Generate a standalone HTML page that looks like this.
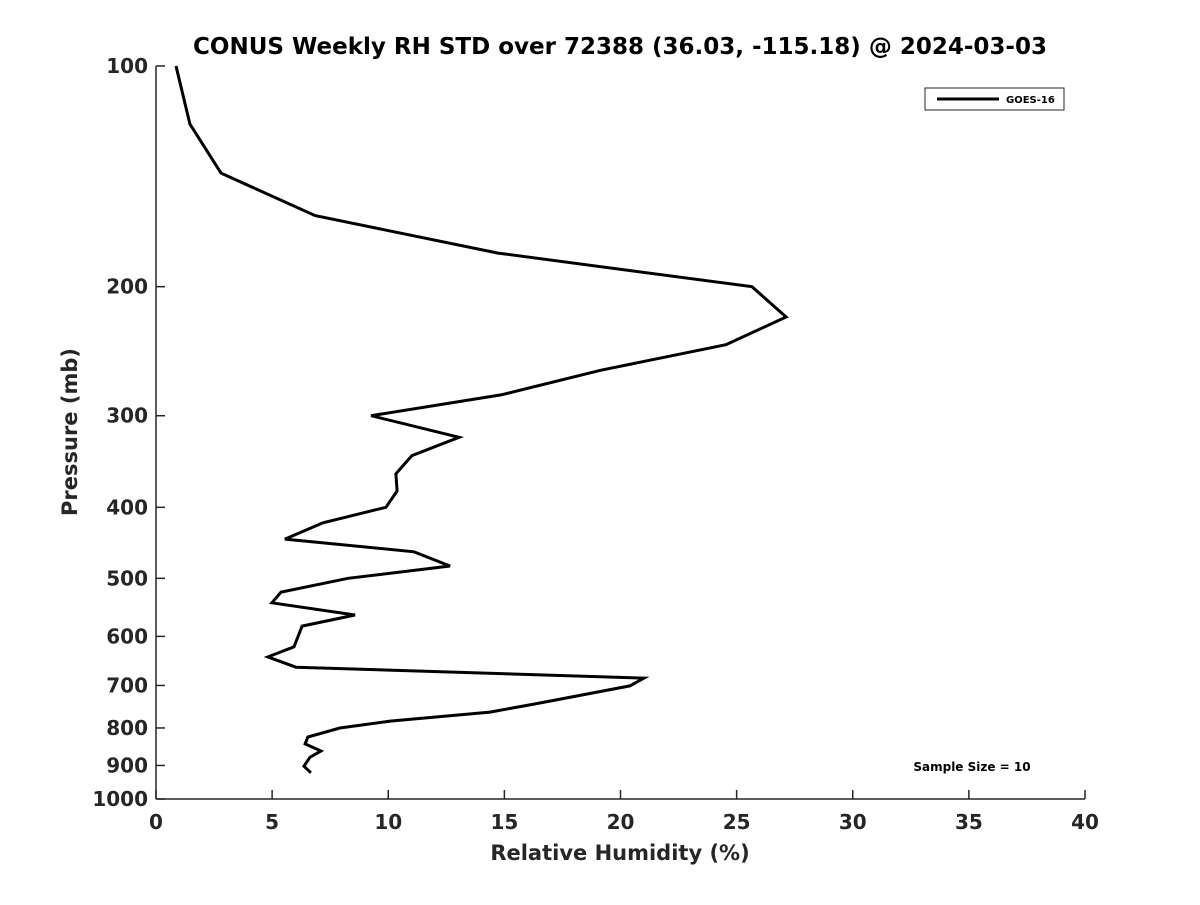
<!DOCTYPE html>
<html><head><meta charset="utf-8"><style>
body{margin:0;background:#fff}
svg text{font-family:"DejaVu Sans","Liberation Sans",sans-serif;font-weight:bold;fill:#262626}
</style></head><body>
<svg width="1200" height="900" xmlns="http://www.w3.org/2000/svg">
<rect width="1200" height="900" fill="#fff"/>
<g id="axes"></g>
<path id="line" fill="none" stroke="#000" stroke-width="3" stroke-linejoin="miter"/>
<text x="620" y="54" text-anchor="middle" font-size="23" style="fill:#000">CONUS Weekly RH STD over 72388 (36.03, -115.18) @ 2024-03-03</text>
<text x="620" y="860" text-anchor="middle" font-size="21">Relative Humidity (%)</text>
<text transform="translate(77,432) rotate(-90)" text-anchor="middle" font-size="21">Pressure (mb)</text>
<g>
<rect x="925" y="88" width="139" height="22" fill="#fff" stroke="#262626" stroke-width="1"/>
<line x1="937" y1="99" x2="999" y2="99" stroke="#000" stroke-width="3"/>
<text x="1006" y="103" font-size="10" style="fill:#000">GOES-16</text>
</g>
<text x="972" y="771" text-anchor="middle" font-size="12" style="fill:#000">Sample Size = 10</text>
</svg>
<script>
const rhValues=[0.86,1.46,2.8,6.85,14.73,25.66,27.13,24.54,19.16,14.85,9.26,13.05,11.02,10.33,10.38,9.9,7.19,5.55,11.11,12.66,8.27,5.38,4.99,8.57,6.29,5.94,4.82,6.03,21.01,20.4,16.3,14.38,10.08,7.92,6.54,6.42,7.1,6.63,6.37,6.67];
const pressureLevels=[100,120,140,160,180,200,220,240,260,281,300,321,340,360,380,400,420,442,460,481,500,522,540,561,581,620,640,661,684,701,742,761,783,800,823,841,860,877,902,921];
const xTicks=[0,5,10,15,20,25,30,35,40];
const yTicks=[100,200,300,400,500,600,700,800,900,1000];
const X0=156,X1=1085,Y0=66,Y1=799;
const xs=v=>X0+(v/40)*(X1-X0);
const ys=p=>Y0+(Math.log10(p)-2)*(Y1-Y0);
const NS="http://www.w3.org/2000/svg";
const ax=document.getElementById('axes');
function mk(t,a){const e=document.createElementNS(NS,t);for(const k in a)e.setAttribute(k,a[k]);ax.appendChild(e);return e;}
let l=mk('line',{x1:X0,y1:Y0,x2:X0,y2:Y1,stroke:'#262626','stroke-width':1.5});


l=mk('line',{x1:X0,y1:Y1,x2:X1,y2:Y1,stroke:'#262626','stroke-width':1.5});


xTicks.forEach(v=>{
  const x=xs(v);
  const t=mk('line',{x1:x,y1:Y1,x2:x,y2:Y1-9,stroke:'#262626','stroke-width':1.5});
  
  
  const tx=mk('text',{x:x,y:Y1+30,'text-anchor':'middle','font-size':20});
  tx.textContent=v;
  
  
});
yTicks.forEach(p=>{
  const y=ys(p);
  const t=mk('line',{x1:X0,y1:y,x2:X0+9,y2:y,stroke:'#262626','stroke-width':1.5});
  
  
  const tx=mk('text',{x:X0-8,y:y+7,'text-anchor':'end','font-size':20});
  tx.textContent=p;
  
  
});
document.getElementById('line').setAttribute('d',rhValues.map((v,i)=>(i?'L':'M')+xs(v).toFixed(1)+','+ys(pressureLevels[i]).toFixed(1)).join(''));
</script>
</body></html>
